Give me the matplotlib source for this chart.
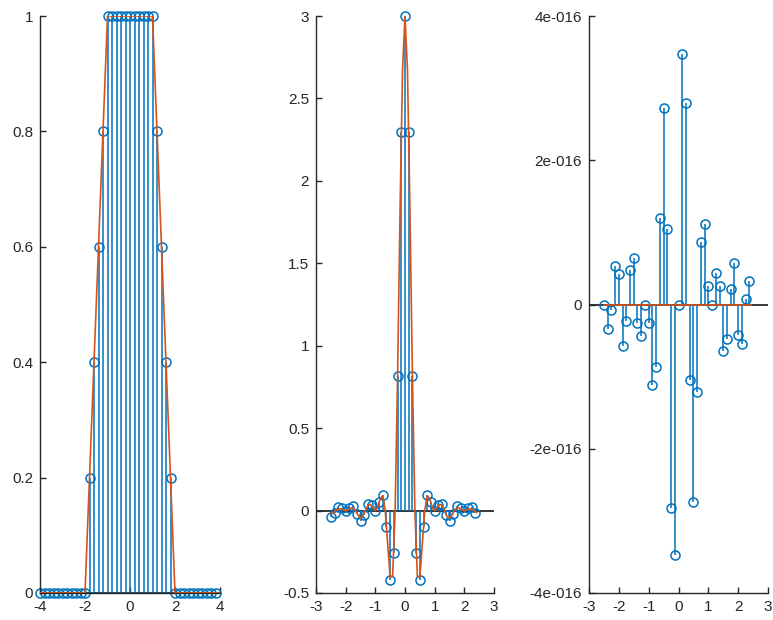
import numpy as np
import matplotlib.pyplot as plt

plt.rcParams['font.family'] = ['Liberation Sans', 'DejaVu Sans']
plt.rcParams['font.size'] = 11

blue = '#0072BD'
orange = '#D95319'

# left: sampled trapezoid, t = -4 : 0.2 : 3.8
t = np.arange(40) * 0.2 - 4
trap = [0, 0, 0, 0, 0, 0, 0, 0, 0, 0, 0,
        0.2, 0.4, 0.6, 0.8,
        1, 1, 1, 1, 1, 1, 1, 1, 1, 1, 1,
        0.8, 0.6, 0.4, 0.2,
        0, 0, 0, 0, 0, 0, 0, 0, 0, 0]
trap_line_t = [-4, -2, -1, 1, 2, 4]
trap_line_y = [0, 0, 1, 1, 0, 0]

# middle: real part of spectrum, f = -2.5 : 0.125 : 2.375
f = np.arange(-20, 20) * 0.125
re_half = [3.000, 2.297, 0.817, -0.260, -0.419, -0.097, 0.097, 0.052, 0.000, 0.034,
           0.040, -0.024, -0.061, -0.019, 0.025, 0.017, 0.000, 0.015, 0.021, -0.014, -0.040]
spec_re = re_half[20:0:-1] + re_half[:20]
# smooth curve, f = -2.5 : 1/12 : 2.4167
ff = np.arange(-30, 30) / 12
fine_half = [3.0, 2.670, 1.824, 0.811, 0.0, -0.399, -0.405, -0.203, 0.0, 0.090,
             0.073, 0.022, 0.0, 0.016, 0.037, 0.032, 0.0, -0.035, -0.045, -0.028,
             0.0, 0.017, 0.015, 0.005, 0.0, 0.004, 0.011, 0.010, 0.0, -0.012, -0.016]
spec_fine = fine_half[30:0:-1] + fine_half[:30]

# right: imaginary part (numerical noise)
spec_im = [0, -0.34, -0.07, 0.54, 0.42, -0.57, -0.23, 0.48, 0.64, -0.25,
           -0.44, 0, -0.26, -1.12, -0.87, 1.20, 2.73, 1.05, -2.82, -3.47,
           0, 3.47, 2.80, -1.05, -2.74, -1.21, 0.87, 1.11, 0.26, 0,
           0.43, 0.25, -0.65, -0.48, 0.22, 0.57, -0.42, -0.55, 0.08, 0.33]
spec_im = [v * 1e-16 for v in spec_im]
im_fine = [0.0] * len(ff)

fig = plt.figure(figsize=(7.73, 6.2), dpi=100)
W, H = 773, 620
def add_ax(x0, x1, y0=16, y1=593):
    return fig.add_axes([x0 / W, (H - y1) / H, (x1 - x0) / W, (y1 - y0) / H])

ax1 = add_ax(40, 220)
ax2 = add_ax(316, 494)
ax3 = add_ax(589, 768)

def stems(ax, x, y):
    ml, sl, bl = ax.stem(x, y, linefmt='-', markerfmt='o', basefmt=' ')
    sl.set_color(blue)
    sl.set_linewidth(1.1)
    ml.set_markerfacecolor('none')
    ml.set_markeredgecolor(blue)
    ml.set_markersize(6.5)
    ml.set_markeredgewidth(1.1)
    ml.set_clip_on(False)
    sl.set_clip_on(False)

for ax in (ax1, ax2, ax3):
    ax.axhline(0, color='k', lw=1.1, zorder=1)

stems(ax1, t, trap)
ax1.plot(trap_line_t, trap_line_y, color=orange, lw=1.2, zorder=3)
stems(ax2, f, spec_re)
ax2.plot(ff, spec_fine, color=orange, lw=1.2, zorder=3)
stems(ax3, f, spec_im)
ax3.plot(ff, im_fine, color=orange, lw=1.2, zorder=3)

ax1.set_xlim(-4, 4)
ax1.set_ylim(0, 1)
ax1.set_xticks([-4, -2, 0, 2, 4])
ax1.set_yticks([0, 0.2, 0.4, 0.6, 0.8, 1])
ax1.set_yticklabels(['0', '0.2', '0.4', '0.6', '0.8', '1'])

ax2.set_xlim(-3, 3)
ax2.set_ylim(-0.5, 3)
ax2.set_xticks([-3, -2, -1, 0, 1, 2, 3])
ax2.set_yticks([-0.5, 0, 0.5, 1, 1.5, 2, 2.5, 3])
ax2.set_yticklabels(['-0.5', '0', '0.5', '1', '1.5', '2', '2.5', '3'])

ax3.set_xlim(-3, 3)
ax3.set_ylim(-4e-16, 4e-16)
ax3.set_xticks([-3, -2, -1, 0, 1, 2, 3])
ax3.set_yticks([-4e-16, -2e-16, 0, 2e-16, 4e-16])
ax3.set_yticklabels(['-4e-016', '-2e-016', '0', '2e-016', '4e-016'])

for ax in (ax1, ax2, ax3):
    ax.set_xticklabels([str(v) for v in ax.get_xticks().astype(int)])
    for s in ('top', 'right'):
        ax.spines[s].set_visible(False)
    for s in ('left', 'bottom'):
        ax.spines[s].set_color('#262626')
        ax.spines[s].set_linewidth(1.0)
    ax.tick_params(direction='in', length=4, width=1.0, colors='#262626',
                   labelcolor='#262626', labelsize=11, pad=5)

fig.savefig('out.png', dpi=100)
